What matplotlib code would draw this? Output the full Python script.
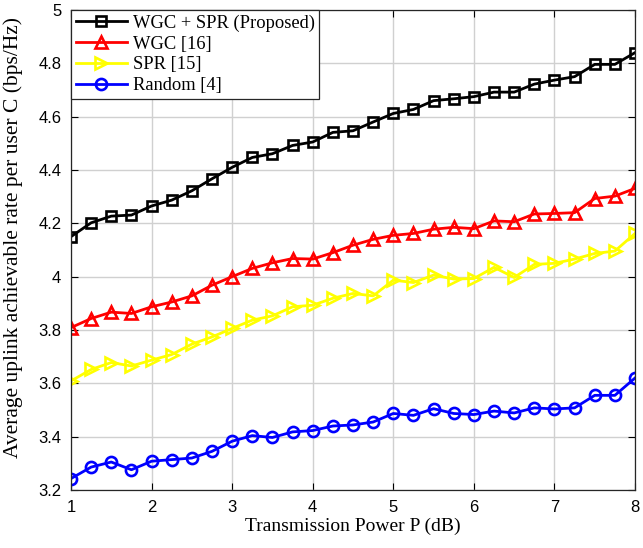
import numpy as np
import matplotlib
matplotlib.use('Agg')
import matplotlib.pyplot as plt
from matplotlib.ticker import FormatStrFormatter

# transmission power sweep (dB)
power = [1, 1.25, 1.5, 1.75, 2, 2.25, 2.5, 2.75, 3, 3.25, 3.5, 3.75, 4, 4.25,
         4.5, 4.75, 5, 5.25, 5.5, 5.75, 6, 6.25, 6.5, 6.75, 7, 7.25, 7.5, 7.75, 8]

# average uplink rate per user (bps/Hz)
rate_proposed = [4.150, 4.202, 4.227, 4.231, 4.265, 4.287, 4.322, 4.367, 4.410, 4.447,
                 4.461, 4.492, 4.505, 4.541, 4.547, 4.580, 4.612, 4.627, 4.660, 4.667,
                 4.675, 4.692, 4.692, 4.722, 4.737, 4.750, 4.796, 4.796, 4.840]
rate_wgc = [3.809, 3.843, 3.867, 3.862, 3.887, 3.905, 3.928, 3.968, 4.000, 4.031,
            4.052, 4.068, 4.066, 4.090, 4.118, 4.140, 4.155, 4.162, 4.178, 4.185,
            4.180, 4.209, 4.206, 4.235, 4.237, 4.240, 4.293, 4.302, 4.331]
rate_spr = [3.609, 3.652, 3.678, 3.665, 3.687, 3.708, 3.747, 3.774, 3.806, 3.837,
            3.853, 3.887, 3.893, 3.919, 3.937, 3.928, 3.987, 3.978, 4.006, 3.991,
            3.993, 4.035, 3.997, 4.046, 4.050, 4.066, 4.087, 4.096, 4.162]
rate_random = [3.243, 3.286, 3.305, 3.276, 3.308, 3.314, 3.320, 3.345, 3.383, 3.404,
               3.397, 3.418, 3.423, 3.440, 3.444, 3.455, 3.487, 3.480, 3.505, 3.487,
               3.483, 3.496, 3.489, 3.508, 3.504, 3.508, 3.555, 3.555, 3.620]

labels = ['WGC + SPR (Proposed)', 'WGC [16]', 'SPR [15]', 'Random [4]']

fig = plt.figure(figsize=(6.43, 5.48), dpi=100)
ax = fig.add_axes([0.1104, 0.1058, 0.8772, 0.876])

style = dict(linewidth=2.0, markeredgewidth=1.9, markerfacecolor='none')
ax.plot(power, rate_proposed, color='black', marker='s', markersize=7,
        label=labels[0], **style)
ax.plot(power, rate_wgc, color='red', marker='^', markersize=8.5,
        label=labels[1], **style)
ax.plot(power, rate_spr, color='#ffff00', marker='>', markersize=8.5,
        label=labels[2], **style)
ax.plot(power, rate_random, color='blue', marker='o', markersize=8,
        label=labels[3], **style)

ax.set_xlim(1, 8)
ax.set_ylim(3.2, 5)
ax.set_xticks(np.arange(1, 9, 1))
ax.set_yticks(np.arange(3.2, 5.01, 0.2))
ax.yaxis.set_major_formatter(FormatStrFormatter('%g'))
ax.tick_params(direction='in', top=True, right=True, length=5, width=0.8,
               labelsize=12, pad=7)
for lab in ax.get_xticklabels() + ax.get_yticklabels():
    lab.set_fontfamily('Liberation Sans')
ax.grid(True, color='#d0d0d0', linewidth=1.0)
ax.set_axisbelow(True)
for sp in ax.spines.values():
    sp.set_linewidth(0.9)
    sp.set_color('#262626')

ax.set_xlabel('Transmission Power P (dB)', fontfamily='Liberation Serif', fontsize=14,
              labelpad=2)
ax.set_ylabel('Average uplink achievable rate per user C (bps/Hz)',
              fontfamily='Liberation Serif', fontsize=15.5)
ax.yaxis.set_label_coords(-0.085, 0.527)

leg = ax.legend(loc='upper left', borderaxespad=0, handlelength=2.8,
                prop={'family': 'Liberation Serif', 'size': 13.3}, fancybox=False,
                framealpha=1, edgecolor='#262626', labelspacing=0.2,
                borderpad=0.25, handletextpad=0.3)
leg.get_frame().set_linewidth(0.9)

fig.savefig('out.png', dpi=100)
